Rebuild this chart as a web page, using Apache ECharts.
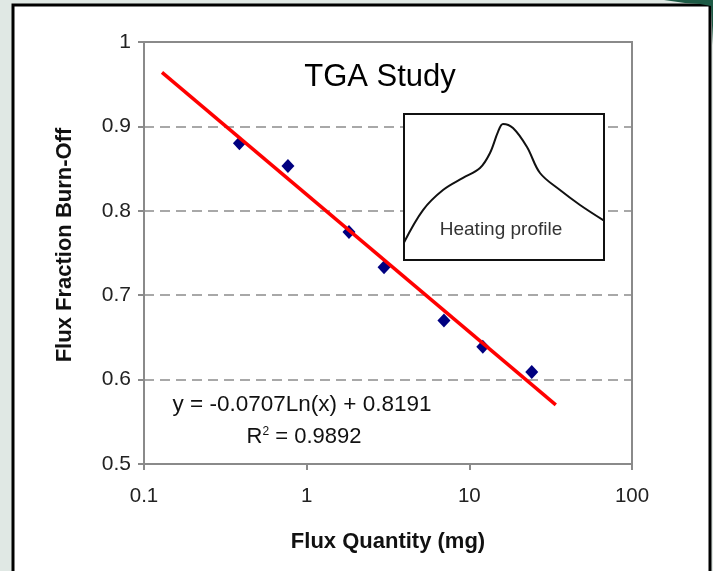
<!DOCTYPE html>
<html><head><meta charset="utf-8">
<script src="https://cdn.jsdelivr.net/npm/echarts@6/dist/echarts.min.js"></script>
<style>html,body{margin:0;padding:0;background:#e0e8e4}#c{width:713px;height:571px}</style>
</head><body><div id="c"></div>
<script>
// Data
const fluxQuantity = [0.386, 0.767, 1.82, 2.99, 6.98, 12.1, 24.2];
const burnOff      = [0.880, 0.853, 0.775, 0.733, 0.670, 0.639, 0.609];
// Logarithmic trendline end points (y = -0.0707 ln(x) + 0.8191)
const trendX = [0.129, 34.0];
const trendY = [0.964, 0.570];
// Inset heating profile (arbitrary units)
const profileX = [0, 9.5, 19.5, 29.5, 38, 43, 47, 49.5, 54.5, 61.5, 68, 78, 88, 100];
const profileY = [12, 34.2, 47.9, 56.2, 63, 73.3, 87.7, 93.2, 90.4, 77.4, 59.6, 47.9, 37.7, 27];
const yTicks = [0.5, 0.6, 0.7, 0.8, 0.9, 1];
const xTicks = [0.1, 1, 10, 100];

const F = '"Liberation Sans", Arial, sans-serif';
const chart = echarts.init(document.getElementById('c'), null, {renderer: 'canvas'});
chart.setOption({
  backgroundColor: '#e0e8e4',
  animation: false,
  graphic: [
    {type: 'rect', z: -10, shape: {x: 13, y: 5, width: 697, height: 580},
     style: {fill: '#fff', stroke: '#000', lineWidth: 3}},
    {type: 'polygon', z: -9, shape: {points: [[664,0],[713,0],[713,45],[711,6],[700,4],[685,3]]},
     style: {fill: '#1d5a45'}},
    {type: 'rect', z: 4, shape: {x: 144, y: 42, width: 488, height: 422},
     style: {fill: 'none', stroke: '#8a8a8a', lineWidth: 2}},
    {type: 'text', z: 10, x: 380, y: 77, style: {text: 'TGA Study', font: '31px ' + F, fill: '#000', textAlign: 'center', textVerticalAlign: 'middle'}},
    {type: 'rect', z: 1, shape: {x: 404, y: 114, width: 200, height: 146},
     style: {fill: '#fff', stroke: '#111', lineWidth: 2}},
    {type: 'text', z: 10, x: 501, y: 230, style: {text: 'Heating profile', font: '19px ' + F, fill: '#333', textAlign: 'center', textVerticalAlign: 'middle'}},
    {type: 'text', z: 10, x: 302, y: 405, style: {text: 'y = -0.0707Ln(x) + 0.8191', font: '22.5px ' + F, fill: '#111', textAlign: 'center', textVerticalAlign: 'middle'}},
    {type: 'text', z: 10, x: 304, y: 437, style: {
      text: '{a|R}{s|2}{a| = 0.9892}', textAlign: 'center', textVerticalAlign: 'middle',
      rich: {a: {font: '22px ' + F, fill: '#111'}, s: {font: '12px ' + F, fill: '#111', verticalAlign: 'top', padding: [0,0,9,0]}}}}
  ],
  grid: [
    {left: 144, top: 42, width: 488, height: 422, show: false},
    {left: 404, top: 114, width: 200, height: 146, show: false}
  ],
  xAxis: [
    {type: 'log', logBase: 10, min: 0.1, max: 100, gridIndex: 0,
     name: 'Flux Quantity (mg)', nameLocation: 'middle', nameGap: 67,
     nameTextStyle: {fontFamily: F, fontSize: 22, fontWeight: 'bold', color: '#111'},
     axisLine: {show: true, lineStyle: {color: '#8a8a8a', width: 2}},
     axisTick: {show: true, length: 6, lineStyle: {color: '#8a8a8a', width: 2}},
     minorTick: {show: false},
     splitLine: {show: false},
     axisLabel: {margin: 22, fontFamily: F, fontSize: 20.5, color: '#222',
       formatter: v => String(+(+v).toPrecision(3))}},
    {type: 'value', gridIndex: 1, min: 0, max: 100, show: false}
  ],
  yAxis: [
    {type: 'value', min: 0.5, max: 1, interval: 0.1, gridIndex: 0,
     name: 'Flux Fraction Burn-Off', nameLocation: 'middle', nameGap: 68, nameRotate: 90,
     nameTextStyle: {fontFamily: F, fontSize: 22, fontWeight: 'bold', color: '#111', padding: [0, 0, 0, 16]},
     axisLine: {show: true, lineStyle: {color: '#8a8a8a', width: 2}},
     axisTick: {show: true, length: 6, lineStyle: {color: '#8a8a8a', width: 2}},
     splitLine: {show: true, lineStyle: {color: '#a8a8a8', width: 2, type: [10, 6]}},
     axisLabel: {margin: 13, fontFamily: F, fontSize: 21, color: '#222',
       formatter: v => String(+(+v).toFixed(1)).replace(/^1\.0$/, '1')}},
    {type: 'value', gridIndex: 1, min: 0, max: 100, show: false}
  ],
  series: [
    {type: 'scatter', xAxisIndex: 0, yAxisIndex: 0, z: 2,
     symbol: 'diamond', symbolSize: [13, 14],
     itemStyle: {color: '#000080', opacity: 1},
     data: fluxQuantity.map((x, i) => [x, burnOff[i]])},
    {type: 'line', xAxisIndex: 0, yAxisIndex: 0, z: 3, symbol: 'none',
     lineStyle: {color: '#ff0000', width: 3.5},
     data: trendX.map((x, i) => [x, trendY[i]])},
    {type: 'line', xAxisIndex: 1, yAxisIndex: 1, z: 5, symbol: 'none', smooth: 0.35,
     lineStyle: {color: '#111', width: 2},
     data: profileX.map((x, i) => [x, profileY[i]])}
  ]
});
</script></body></html>
